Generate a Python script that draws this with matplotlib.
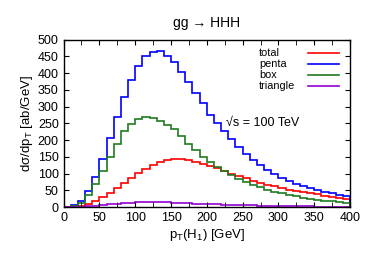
import numpy as np
import matplotlib
matplotlib.use('Agg')
import matplotlib.pyplot as plt
from matplotlib.ticker import MultipleLocator

plt.rcParams['font.family'] = ['Liberation Sans', 'DejaVu Sans']
plt.rcParams['mathtext.fontset'] = 'custom'
plt.rcParams['mathtext.rm'] = 'Liberation Sans'
plt.rcParams['mathtext.it'] = 'Liberation Sans'

# bin edges in pT(H1) [GeV], 10 GeV bins
edges = np.arange(0, 410, 10)

total = [0, 1, 4, 10, 20, 32, 43, 58, 72, 87,
         101, 114, 125, 134, 141, 145, 144, 141, 136, 130,
         124, 116, 108, 100, 93, 86, 79, 73, 67, 62,
         57, 52, 48, 44, 41, 38, 34, 31, 28, 25]
penta = [1, 6, 20, 47, 90, 143, 207, 270, 328, 380,
         422, 452, 462, 465, 452, 432, 402, 372, 342, 312,
         276, 252, 226, 203, 180, 160, 140, 125, 110, 98,
         87, 78, 70, 63, 57, 51, 46, 41, 37, 33]
box = [0, 3, 12, 37, 70, 107, 149, 188, 226, 249,
       263, 268, 266, 256, 246, 232, 212, 190, 170, 150,
       135, 121, 108, 96, 85, 76, 67, 59, 52, 46,
       41, 37, 33, 29, 26, 23, 20, 18, 16, 14]
triangle = [0, 1, 2, 3, 5, 7, 9, 11, 13, 14,
            15, 15.5, 15.5, 15, 14.5, 14, 13, 12, 11, 10,
            9, 8.5, 8, 7, 6.5, 6, 5.5, 5, 4.5, 4,
            3.5, 3.2, 3, 2.7, 2.4, 2.2, 2, 1.8, 1.6, 1.4]

labels = ['total', 'penta', 'box', 'triangle']
colors = ['#ff0000', '#0000ff', '#1f7a1f', '#9400d3']

fig = plt.figure(figsize=(3.74, 2.62), dpi=100)
ax = fig.add_axes([0.170, 0.209, 0.766, 0.640])

for vals, lab, c in zip([total, penta, box, triangle], labels, colors):
    ax.stairs(vals, edges, color=c, lw=1.2, label=lab)

ax.set_xlim(0, 400)
ax.set_ylim(0, 500)
ax.xaxis.set_major_locator(MultipleLocator(50))
ax.xaxis.set_minor_locator(MultipleLocator(25))
ax.yaxis.set_major_locator(MultipleLocator(50))
ax.tick_params(which='both', direction='in', top=True, right=True, labelsize=9)
ax.tick_params(which='both', length=3.5)
for s in ax.spines.values():
    s.set_linewidth(1.0)

ax.set_title('gg → HHH', fontsize=10, pad=9)
ax.set_xlabel(r'p$_\mathrm{T}$(H$_1$) [GeV]', fontsize=9.5, labelpad=2)
ax.set_ylabel(r'dσ/dp$_\mathrm{T}$ [ab/GeV]', fontsize=9.5, labelpad=2)
ax.text(0.566, 0.50, '√s = 100 TeV', transform=ax.transAxes, fontsize=9, va='center')

# gnuplot-style key: label left-aligned, sample line on the right
key_y = [0.920, 0.854, 0.788, 0.722]
for ky, lab, c in zip(key_y, labels, colors):
    ax.text(0.682, ky, lab, transform=ax.transAxes, fontsize=7.8, va='center', ha='left')
    ax.plot([0.852, 0.96], [ky, ky], transform=ax.transAxes, color=c, lw=1.2)

fig.savefig('out.png', dpi=100)
